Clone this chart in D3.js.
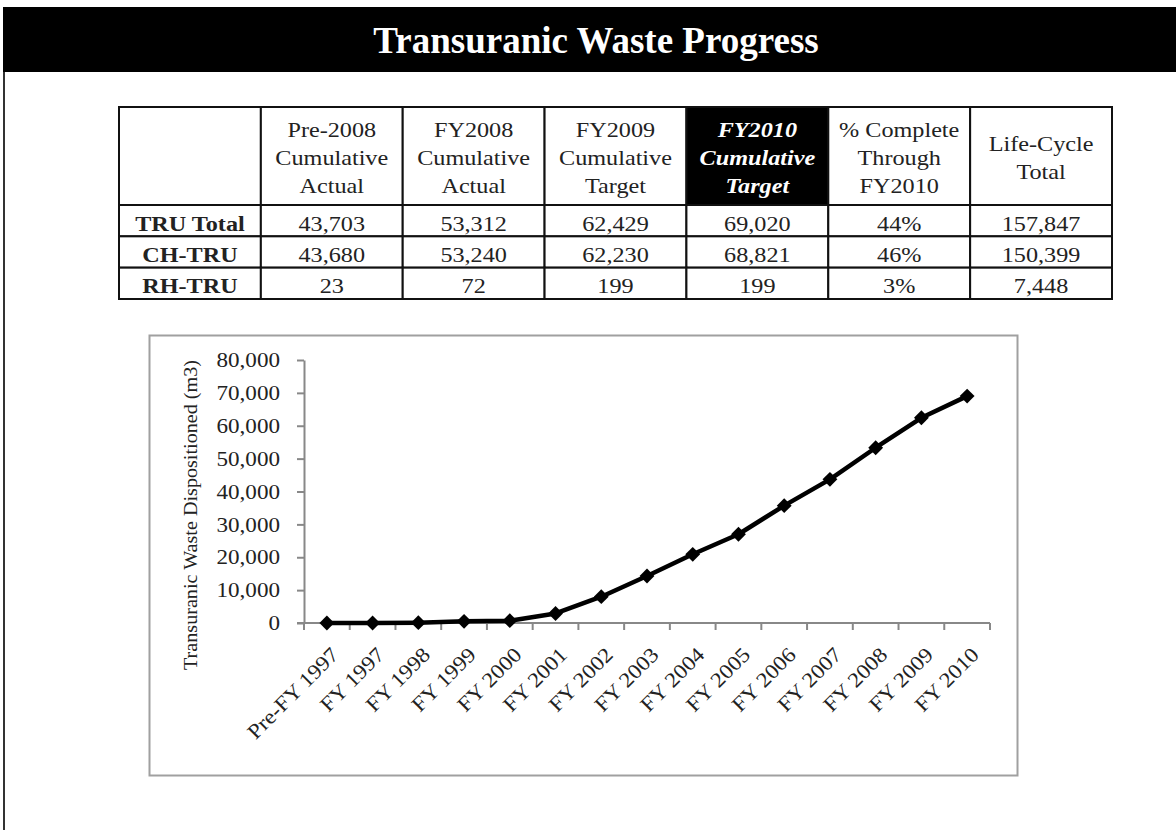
<!DOCTYPE html>
<html>
<head>
<meta charset="utf-8">
<script src="https://cdn.jsdelivr.net/npm/d3@7"></script>
<style>
	body { margin: 0; background: #fff; }
	svg { display: block; }
</style>
</head>
<body>
<div id="page"></div>
<script>
// Table data
var colHeaders = [
	[],
	['Pre-2008', 'Cumulative', 'Actual'],
	['FY2008', 'Cumulative', 'Actual'],
	['FY2009', 'Cumulative', 'Target'],
	['FY2010', 'Cumulative', 'Target'],
	['% Complete', 'Through', 'FY2010'],
	['Life-Cycle', 'Total']
];
var highlightCol = 4;
var rowLabels = ['TRU Total', 'CH-TRU', 'RH-TRU'];
var truTotal = [43703, 53312, 62429, 69020, 0.44, 157847];
var chTru    = [43680, 53240, 62230, 68821, 0.46, 150399];
var rhTru    = [23, 72, 199, 199, 0.03, 7448];

// Chart data (cumulative m3 dispositioned)
var categories = ['Pre-FY 1997', 'FY 1997', 'FY 1998', 'FY 1999', 'FY 2000', 'FY 2001', 'FY 2002',
	'FY 2003', 'FY 2004', 'FY 2005', 'FY 2006', 'FY 2007', 'FY 2008', 'FY 2009', 'FY 2010'];
var disposed = [0, 0, 100, 500, 700, 2900, 8000, 14300, 20900, 27000, 35700, 43703, 53312, 62429, 69020];
var yTicks = [0, 10000, 20000, 30000, 40000, 50000, 60000, 70000, 80000];

var W = 1176, H = 830;
var serif = '"Liberation Serif", "Times New Roman", serif';
var stretch = 1.1; // source text looks a little wide

var svg = d3.select('#page').append('svg')
	.attr('width', W)
	.attr('height', H)
	.style('font-family', serif);

// Title bar and left page edge
svg.append('rect').attr('x', 3).attr('y', 7).attr('width', W).attr('height', 65).attr('fill', '#000');
svg.append('line').attr('x1', 4).attr('x2', 4).attr('y1', 72).attr('y2', H)
	.attr('stroke', '#333').attr('stroke-width', 2);
svg.append('text')
	.attr('x', 596).attr('y', 53)
	.attr('text-anchor', 'middle')
	.attr('fill', '#fff')
	.attr('font-weight', 'bold')
	.attr('font-size', 37)
	.text('Transuranic Waste Progress');

// ---- Table ----
var colX = d3.scaleBand().domain(d3.range(colHeaders.length)).range([119, 1112]);
var rowY = d3.scaleBand().domain(rowLabels).range([205, 299]);
var headTop = 107, headBottom = 205;
var rows = [truTotal, chTru, rhTru];
var fmtNum = d3.format(','), fmtPct = d3.format('.0%');

var table = svg.append('g');

// header cells
table.selectAll('rect.head')
	.data(colHeaders)
	.enter()
	.append('rect')
	.attr('class', 'head')
	.attr('x', function(d, i) { return colX(i); })
	.attr('y', headTop)
	.attr('width', colX.bandwidth())
	.attr('height', headBottom - headTop)
	.attr('fill', function(d, i) { return i === highlightCol ? '#000' : '#fff'; })
	.attr('stroke', '#111')
	.attr('stroke-width', 2);

colHeaders.forEach(function(lines, i) {
	var first = 165 - (lines.length - 1) / 2 * 28;
	lines.forEach(function(line, j) {
		table.append('text')
			.attr('transform', 'translate(' + (colX(i) + colX.bandwidth() / 2) + ',' + (first + j * 28) + ') scale(' + stretch + ',1)')
			.attr('text-anchor', 'middle')
			.attr('font-size', 22)
			.attr('fill', i === highlightCol ? '#fff' : '#222')
			.attr('font-weight', i === highlightCol ? 'bold' : null)
			.attr('font-style', i === highlightCol ? 'italic' : null)
			.text(line);
	});
});

// body cells
rowLabels.forEach(function(label, r) {
	var cells = [label].concat(rows[r]);
	cells.forEach(function(v, c) {
		table.append('rect')
			.attr('x', colX(c))
			.attr('y', rowY(label))
			.attr('width', colX.bandwidth())
			.attr('height', rowY.bandwidth())
			.attr('fill', '#fff')
			.attr('stroke', '#111')
			.attr('stroke-width', 2);
		var txt = c === 0 ? v : (c === 5 ? fmtPct(v) : fmtNum(v));
		table.append('text')
			.attr('transform', 'translate(' + (colX(c) + colX.bandwidth() / 2) + ',' + (rowY(label) + rowY.bandwidth() / 2 + 10) + ') scale(' + stretch + ',1)')
			.attr('text-anchor', 'middle')
			.attr('font-size', 22)
			.attr('font-weight', c === 0 ? 'bold' : null)
			.attr('fill', '#222')
			.text(txt);
	});
});

// ---- Line chart ----
svg.append('rect')
	.attr('x', 149.5).attr('y', 335.5)
	.attr('width', 868).attr('height', 440)
	.attr('fill', '#fff')
	.attr('stroke', '#a0a0a0')
	.attr('stroke-width', 2);

var plotLeft = 304, plotRight = 990, plotTop = 360, plotBottom = 623;

var x = d3.scaleBand().domain(categories).range([plotLeft, plotRight]);
var y = d3.scaleLinear().domain([0, 80000]).range([plotBottom, plotTop]);

var yAxis = svg.append('g')
	.attr('transform', 'translate(' + plotLeft + ',0)')
	.call(d3.axisLeft(y).tickValues(yTicks).tickFormat(d3.format(',')).tickSize(7).tickSizeOuter(0));
yAxis.select('.domain').attr('stroke', '#888').attr('stroke-width', 2);
yAxis.selectAll('.tick line').attr('stroke', '#888').attr('stroke-width', 2);
yAxis.selectAll('.tick text')
	.attr('x', null)
	.attr('transform', 'translate(-24,0) scale(' + stretch + ',1)')
	.attr('font-family', serif)
	.attr('font-size', 21)
	.attr('fill', '#222');

// x axis: ticks at category boundaries, like the spreadsheet
var xAxis = svg.append('g').attr('transform', 'translate(0,' + plotBottom + ')');
xAxis.append('line')
	.attr('x1', plotLeft - 7).attr('x2', plotRight)
	.attr('stroke', '#888').attr('stroke-width', 2);
xAxis.selectAll('line.tk')
	.data(categories.concat(['end']))
	.enter()
	.append('line')
	.attr('class', 'tk')
	.attr('x1', function(d, i) { return i < categories.length ? x(d) : plotRight; })
	.attr('x2', function(d, i) { return i < categories.length ? x(d) : plotRight; })
	.attr('y2', 7)
	.attr('stroke', '#888').attr('stroke-width', 2);
xAxis.selectAll('text')
	.data(categories)
	.enter()
	.append('text')
	.attr('transform', function(d) {
		return 'translate(' + (x(d) + x.bandwidth() / 2 + 13) + ',33) rotate(-45) scale(' + stretch + ',1)';
	})
	.attr('text-anchor', 'end')
	.attr('font-size', 21)
	.attr('fill', '#222')
	.text(function(d) { return d; });

svg.append('text')
	.attr('transform', 'translate(197,515) rotate(-90)')
	.attr('text-anchor', 'middle')
	.attr('font-size', 18)
	.attr('textLength', 310)
	.attr('lengthAdjust', 'spacingAndGlyphs')
	.attr('fill', '#222')
	.text('Transuranic Waste Dispositioned (m3)');

var line = d3.line()
	.x(function(d, i) { return x(categories[i]) + x.bandwidth() / 2; })
	.y(function(d) { return y(d); });

svg.append('path')
	.datum(disposed)
	.attr('d', line)
	.attr('fill', 'none')
	.attr('stroke', '#000')
	.attr('stroke-width', 4.5)
	.attr('stroke-linejoin', 'round');

svg.selectAll('path.marker')
	.data(disposed)
	.enter()
	.append('path')
	.attr('class', 'marker')
	.attr('d', d3.symbol().type(d3.symbolSquare).size(110))
	.attr('transform', function(d, i) {
		return 'translate(' + (x(categories[i]) + x.bandwidth() / 2) + ',' + y(d) + ') rotate(45)';
	})
	.attr('fill', '#000');
</script>
</body>
</html>
